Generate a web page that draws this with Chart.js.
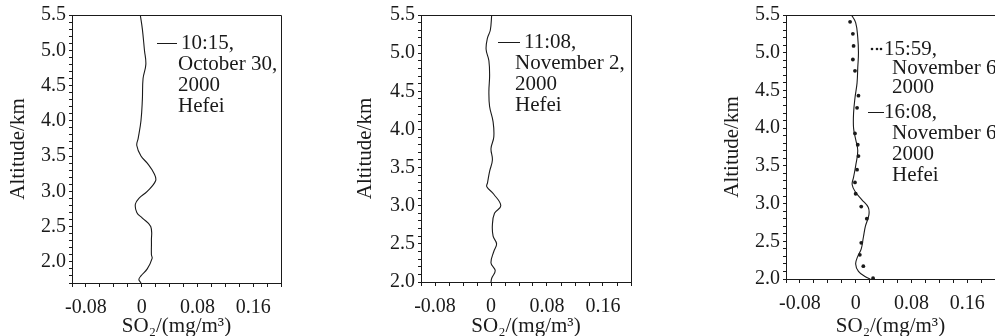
<!DOCTYPE html>
<html>
<head>
<meta charset="utf-8">
<script src="https://cdn.jsdelivr.net/npm/chart.js@4"></script>
<style>
  html, body { margin: 0; padding: 0; background: #fff; }
  body { width: 995px; height: 336px; overflow: hidden; position: relative; }
  canvas { position: absolute; top: 0; }
</style>
</head>
<body>
<canvas id="c1" width="300" height="336" style="left:0px"></canvas>
<canvas id="c2" width="293" height="336" style="left:347px"></canvas>
<canvas id="c3" width="290" height="336" style="left:714px"></canvas>
<script>
// panel 1 : 10:15, October 30, 2000
const alt1 = [5.5, 5.3, 5.0, 4.8, 4.6, 4.3, 4.0, 3.75, 3.65, 3.5, 3.4, 3.25, 3.15, 3.0, 2.9, 2.82, 2.7, 2.62, 2.5, 2.3, 2.1, 2.05, 1.9, 1.8, 1.75, 1.7];
const so2_1 = [-0.002, 0.001, 0.004, 0.006, 0.002, 0.001, -0.001, -0.005, -0.007, -0.001, 0.008, 0.018, 0.02, 0.008, -0.004, -0.009, -0.007, 0.001, 0.013, 0.014, 0.014, 0.015, 0.008, -0.001, -0.004, -0.001];

// panel 2 : 11:08, November 2, 2000
const alt2 = [5.5, 5.3, 5.2, 5.05, 4.9, 4.7, 4.5, 4.3, 4.1, 3.9, 3.75, 3.6, 3.45, 3.3, 3.25, 3.15, 3.0, 2.9, 2.75, 2.6, 2.5, 2.4, 2.25, 2.15, 2.05, 2.0];
const so2_2 = [0.001, -0.001, -0.005, -0.007, -0.003, -0.002, -0.003, -0.002, 0.003, 0.004, 0.0, 0.002, -0.002, -0.005, -0.006, 0.004, 0.014, 0.005, 0.002, 0.003, 0.008, 0.004, 0.0, 0.006, 0.001, 0.0];

// panel 3 : 16:08 (solid) and 15:59 (dots), November 6, 2000
const alt3 = [5.5, 5.4, 5.2, 5.0, 4.8, 4.6, 4.4, 4.2, 4.0, 3.85, 3.7, 3.5, 3.35, 3.25, 3.15, 3.05, 2.95, 2.85, 2.7, 2.55, 2.4, 2.3, 2.2, 2.1, 2.03, 2.0];
const so2_3 = [-0.006, 0.0, 0.003, 0.004, 0.003, 0.002, -0.001, -0.003, -0.003, 0.0, 0.003, 0.0, -0.003, -0.005, 0.0, 0.009, 0.018, 0.019, 0.014, 0.011, 0.008, 0.003, 0.0, 0.004, 0.014, 0.021];
const altDots = [5.41, 5.25, 5.09, 4.91, 4.76, 4.43, 4.27, 3.93, 3.78, 3.63, 3.45, 3.28, 3.13, 2.96, 2.80, 2.48, 2.32, 2.17, 2.01];
const so2Dots = [-0.008, -0.004, -0.003, -0.004, -0.001, 0.004, 0.002, -0.001, 0.003, 0.004, 0.002, -0.001, 0.0, 0.008, 0.016, 0.008, 0.006, 0.011, 0.025];

const xTicks = [-0.08, 0, 0.08, 0.16];
const yTickStep = 0.5;
const legend1 = ['10:15,', 'October 30,', '2000', 'Hefei'];
const legend2 = ['11:08,', 'November 2,', '2000', 'Hefei'];
const legend3a = ['15:59,', 'November 6', '2000'];
const legend3b = ['16:08,', 'November 6', '2000', 'Hefei'];

const FONT = "'Liberation Serif', 'Times New Roman', serif";
const INK = '#1a1a1a';

function pts(xs, ys) {
    return xs.map((v, i) => ({ x: v, y: ys[i] }));
}

// box around plot area (right side optional, the third panel runs off the page)
function framePlugin(withRight) {
    return {
        id: 'frame',
        afterDraw(chart) {
            const a = chart.chartArea, ctx = chart.ctx;
            const l = Math.round(a.left) + 0.5, t = Math.round(a.top) + 0.5;
            const r = Math.round(a.right) + 0.5, b = Math.round(a.bottom) + 0.5;
            ctx.save();
            ctx.strokeStyle = INK;
            ctx.lineWidth = 1;
            ctx.beginPath();
            ctx.moveTo(l, b);
            ctx.lineTo(l, t);
            ctx.lineTo(r, t);
            if (withRight) ctx.lineTo(r, b);
            ctx.stroke();
            ctx.restore();
        }
    };
}

// legend text drawn inside plot
function legendPlugin(offsetX, items) {
    return {
        id: 'textLegend',
        afterDraw(chart) {
            const ctx = chart.ctx;
            ctx.save();
            ctx.fillStyle = INK;
            ctx.strokeStyle = INK;
            ctx.font = '21px ' + FONT;
            ctx.textBaseline = 'middle';
            items.forEach(it => {
                if (it.sample === 'line') {
                    ctx.lineWidth = 1;
                    ctx.beginPath();
                    ctx.moveTo(it.x0 - offsetX, it.y + 0.5);
                    ctx.lineTo(it.x1 - offsetX, it.y + 0.5);
                    ctx.stroke();
                } else {
                    [0, 5, 9].forEach(d => {
                        ctx.beginPath();
                        ctx.arc(it.x0 - offsetX + d, it.y, 1.3, 0, Math.PI * 2);
                        ctx.fill();
                    });
                }
                it.lines.forEach((t, i) => {
                    const x = (i === 0 ? it.tx : it.lx) - offsetX;
                    ctx.fillText(t, x, it.y + i * it.step);
                });
            });
            ctx.restore();
        }
    };
}

function makePanel(id, datasets, yMin, yAxisWidth, padTop, padRight, xAxisHeight, withRight, legend) {
    new Chart(document.getElementById(id), {
        type: 'line',
        data: { datasets: datasets },
        options: {
            responsive: false,
            animation: false,
            parsing: false,
            layout: { padding: { left: 0, top: padTop, right: padRight, bottom: 0 } },
            plugins: { legend: { display: false }, tooltip: { enabled: false } },
            scales: {
                x: {
                    type: 'linear',
                    min: -0.1,
                    max: 0.2,
                    afterBuildTicks: s => {
                        const t = [];
                        for (let i = -5; i <= 10; i++) t.push({ value: i * 0.02 });
                        s.ticks = t;
                    },
                    afterFit: s => { s.height = xAxisHeight; },
                    grid: { drawOnChartArea: false, tickLength: 4, color: INK },
                    border: { color: INK },
                    ticks: {
                        autoSkip: false,
                        maxRotation: 0,
                        padding: 9,
                        color: INK,
                        font: { family: FONT, size: 20 },
                        callback: v => {
                            const hit = xTicks.find(t => Math.abs(t - v) < 1e-6);
                            if (hit === undefined) return '';
                            return hit === 0 ? '0' : hit.toFixed(2);
                        }
                    },
                    title: {
                        display: true,
                        text: 'SO\u2082/(mg/m\u00b3)',
                        color: INK,
                        font: { family: FONT, size: 21, lineHeight: 0.95 },
                        padding: { top: 0, bottom: 0 }
                    }
                },
                y: {
                    type: 'linear',
                    min: yMin,
                    max: 5.5,
                    afterBuildTicks: s => {
                        const t = [];
                        for (let i = Math.round(yMin * 10); i <= 55; i++) t.push({ value: i / 10 });
                        s.ticks = t;
                    },
                    afterFit: s => { s.width = yAxisWidth; },
                    grid: { drawOnChartArea: false, tickLength: 3, color: INK },
                    border: { color: INK },
                    ticks: {
                        autoSkip: false,
                        padding: 3,
                        color: INK,
                        font: { family: FONT, size: 20 },
                        callback: v => {
                            const r = v / yTickStep;
                            return Math.abs(r - Math.round(r)) < 1e-6 ? v.toFixed(1) : '';
                        }
                    },
                    title: {
                        display: true,
                        text: 'Altitude/km',
                        color: INK,
                        font: { family: FONT, size: 21, lineHeight: 1 },
                        padding: { top: 8, bottom: 0 }
                    }
                }
            }
        },
        plugins: [framePlugin(withRight), legendPlugin(legend.offset, legend.items)]
    });
}

const lineStyle = { borderColor: INK, borderWidth: 1.1, pointRadius: 0, tension: 0.4, fill: false };

makePanel('c1', [Object.assign({ data: pts(so2_1, alt1) }, lineStyle)], 1.7, 72, 15, 19, 53, true, {
    offset: 0,
    items: [{ sample: 'line', x0: 157, x1: 177, y: 43, tx: 181, lx: 178, step: 21, lines: legend1 }]
});

makePanel('c2', [Object.assign({ data: pts(so2_2, alt2) }, lineStyle)], 2.0, 74, 14, 9, 54, true, {
    offset: 347,
    items: [{ sample: 'line', x0: 498, x1: 520, y: 42, tx: 524, lx: 515, step: 21, lines: legend2 }]
});

makePanel('c3', [
    Object.assign({ data: pts(so2_3, alt3) }, lineStyle),
    { data: pts(so2Dots, altDots), showLine: false, pointRadius: 1.9, pointBackgroundColor: INK, pointBorderWidth: 0 }
], 2.0, 72, 12, 0, 57, false, {
    offset: 714,
    items: [
        { sample: 'dots', x0: 872, x1: 882, y: 49, tx: 884, lx: 892, step: 19, lines: legend3a },
        { sample: 'line', x0: 868, x1: 884, y: 112, tx: 884, lx: 892, step: 21, lines: legend3b }
    ]
});
</script>
</body>
</html>
